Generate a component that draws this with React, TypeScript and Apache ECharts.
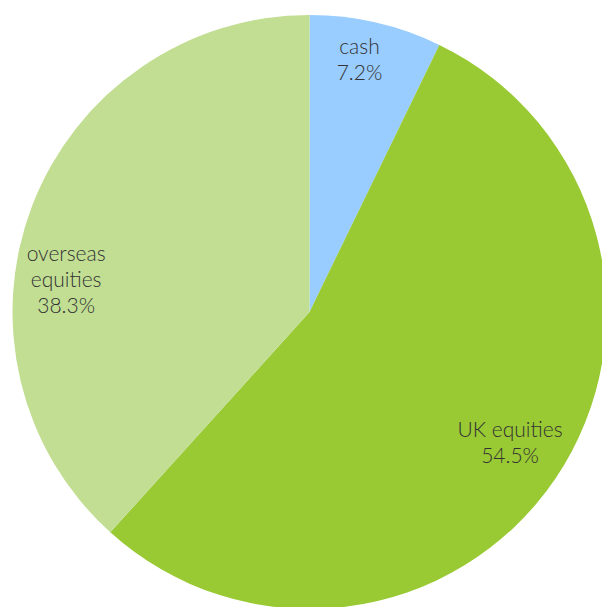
import React, { useEffect, useRef } from "react";
import * as echarts from "echarts";

const categories = ["cash", "UK equities", "overseas\nequities"];
const values = [7.2, 54.5, 38.3];
const colors = ["#99CCFF", "#99C933", "#C1DE93"];
const labelOffsets: [number, number][] = [
  [16, -106],
  [75, 45],
  [-102, 21],
];

export default function App() {
  const ref = useRef<HTMLDivElement>(null);
  useEffect(() => {
    if (!ref.current) return;
    const chart = echarts.init(ref.current, undefined, { renderer: "svg" });
    chart.setOption({
      animation: false,
      backgroundColor: "#ffffff",
      series: [
        {
          type: "pie",
          center: [309.5, 312],
          radius: 297,
          startAngle: 90,
          clockwise: true,
          avoidLabelOverlap: false,
          itemStyle: { borderWidth: 0 },
          emphasis: { disabled: true },
          label: {
            show: true,
            position: "inside",
            formatter: "{b}\n{c}%",
            fontFamily: "Lato, 'Open Sans', sans-serif",
            fontWeight: 300,
            fontSize: 21,
            lineHeight: 26,
            color: "#333333",
            align: "center",
          },
          labelLine: { show: false },
          data: categories.map((name, i) => ({
            name,
            value: values[i],
            itemStyle: { color: colors[i] },
            label: { offset: labelOffsets[i] },
          })),
        },
      ],
    });
    return () => chart.dispose();
  }, []);
  return (
    <div
      ref={ref}
      style={{ position: "fixed", left: 0, top: 0, width: 602, height: 607 }}
    />
  );
}
